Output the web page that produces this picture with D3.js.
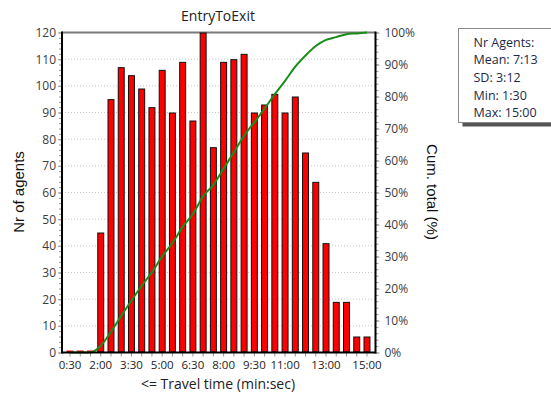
<!DOCTYPE html>
<html>
<head>
<meta charset="utf-8">
<script src="https://cdn.jsdelivr.net/npm/d3@7"></script>
<style>
  body { margin: 0; background: #fff; }
  text { font-family: "Open Sans", "Noto Sans", sans-serif; }
</style>
</head>
<body>
<div id="viz"></div>
<script>
// bins, upper bound of travel time (min:sec)
const bins = ["0:30", "1:00", "1:30", "2:00", "2:30", "3:00", "3:30", "4:00", "4:30", "5:00",
  "5:30", "6:00", "6:30", "7:00", "7:30", "8:00", "8:30", "9:00", "9:30", "10:00",
  "10:30", "11:00", "11:30", "12:00", "12:30", "13:00", "13:30", "14:00", "14:30", "15:00"];
const counts = [0, 0, 0, 45, 95, 107, 104, 99, 92, 106,
  90, 109, 87, 120, 77, 109, 110, 112, 90, 93,
  97, 90, 96, 75, 64, 41, 19, 19, 6, 6];
const xTickLabels = ["0:30", "2:00", "3:30", "5:00", "6:30", "8:00", "9:30", "11:00", "13:00", "15:00"];
const yTicks = [0, 10, 20, 30, 40, 50, 60, 70, 80, 90, 100, 110, 120];
const pctTicks = [0, 0.1, 0.2, 0.3, 0.4, 0.5, 0.6, 0.7, 0.8, 0.9, 1];
const statLines = ["Nr Agents:", "Mean: 7:13", "SD: 3:12", "Min: 1:30", "Max: 15:00"];

const width = 551, height = 394;
const plot = { left: 62, right: 375.5, top: 32.5, bottom: 352.5 };

const svg = d3.select("#viz").append("svg")
  .attr("width", width)
  .attr("height", height);

const x = d3.scaleBand()
  .domain(bins)
  .range([64.9, 372.1])
  .paddingInner(0.32)
  .paddingOuter(0.16);

const y = d3.scaleLinear().domain([0, 120]).range([plot.bottom, plot.top]);
const yPct = d3.scaleLinear().domain([0, 1]).range([plot.bottom, plot.top]);

// cumulative share
const total = d3.sum(counts);
const cum = d3.cumsum(counts).map(v => v / total);

// grid
svg.append("g")
  .selectAll("line")
  .data(yTicks.slice(1))
  .enter().append("line")
  .attr("x1", plot.left).attr("x2", plot.right)
  .attr("y1", d => y(d)).attr("y2", d => y(d))
  .style("stroke", "#c8c8c8")
  .style("stroke-dasharray", "1,2");

// top border
svg.append("line")
  .attr("x1", plot.left).attr("x2", plot.right)
  .attr("y1", plot.top).attr("y2", plot.top)
  .style("stroke", "#7a7a7a").style("stroke-width", 2);

// bars
svg.append("g")
  .selectAll("rect")
  .data(counts.map((c, i) => ({ bin: bins[i], c: c })).filter(d => d.c > 0))
  .enter().append("rect")
  .attr("x", d => x(d.bin) + 0.5)
  .attr("y", d => y(d.c) + 0.5)
  .attr("width", x.bandwidth() - 1)
  .attr("height", d => y(0) - y(d.c) - 1)
  .style("fill", "#ff0000")
  .style("stroke", "#111")
  .style("stroke-width", 1);

// zero bins drawn as a red dash on the baseline
svg.append("g")
  .selectAll("line")
  .data(bins.filter((b, i) => counts[i] === 0))
  .enter().append("line")
  .attr("x1", d => x(d)).attr("x2", d => x(d) + x.bandwidth())
  .attr("y1", plot.bottom - 1).attr("y2", plot.bottom - 1)
  .style("stroke", "#ff0000").style("stroke-width", 2);

// cumulative line
const line = d3.line()
  .x((d, i) => x(bins[i]) + x.bandwidth() / 2)
  .y(d => yPct(d))
  .curve(d3.curveMonotoneX);

svg.append("path")
  .datum(cum)
  .attr("d", line)
  .style("fill", "none")
  .style("stroke", "#1a8c1a")
  .style("stroke-width", 2);

// minor ticks
const minorY = d3.range(0, 121, 2);
svg.append("g")
  .attr("transform", `translate(${plot.left},0)`)
  .call(d3.axisLeft(y).tickValues(minorY).tickSize(3).tickFormat(""))
  .call(g => g.select(".domain").remove())
  .call(g => g.selectAll("line").style("stroke", "#999"));

svg.append("g")
  .attr("transform", `translate(${plot.right},0)`)
  .call(d3.axisRight(yPct).tickValues(d3.range(0, 51).map(i => i / 50)).tickSize(3).tickFormat(""))
  .call(g => g.select(".domain").remove())
  .call(g => g.selectAll("line").style("stroke", "#999"));

// left axis
svg.append("g")
  .attr("transform", `translate(${plot.left},0)`)
  .call(d3.axisLeft(y).tickValues(yTicks).tickSize(4).tickPadding(2))
  .call(g => g.select(".domain").remove())
  .call(g => g.selectAll("line").style("stroke", "#999"))
  .call(g => g.selectAll("text").style("font-size", "12px").style("fill", "#3c3c3c"));

// right axis
svg.append("g")
  .attr("transform", `translate(${plot.right},0)`)
  .call(d3.axisRight(yPct).tickValues(pctTicks).tickSize(4).tickPadding(5).tickFormat(d3.format(".0%")))
  .call(g => g.select(".domain").remove())
  .call(g => g.selectAll("line").style("stroke", "#999"))
  .call(g => g.selectAll("text").style("font-size", "12px").style("fill", "#3c3c3c"));

// bottom axis
svg.append("g")
  .attr("transform", `translate(0,${plot.bottom})`)
  .call(d3.axisBottom(x).tickSize(4).tickPadding(4)
    .tickFormat(d => xTickLabels.includes(d) ? d : ""))
  .call(g => g.select(".domain").remove())
  .call(g => g.selectAll("line").style("stroke", "#999"))
  .call(g => g.selectAll("text").style("font-size", "11.5px").style("fill", "#222"));

// axis lines
svg.append("line")
  .attr("x1", plot.left).attr("x2", plot.left)
  .attr("y1", plot.top - 1).attr("y2", plot.bottom + 1)
  .style("stroke", "#000").style("stroke-width", 2);
svg.append("line")
  .attr("x1", plot.right).attr("x2", plot.right)
  .attr("y1", plot.top - 1).attr("y2", plot.bottom + 1)
  .style("stroke", "#000").style("stroke-width", 2);
svg.append("line")
  .attr("x1", plot.left).attr("x2", plot.right)
  .attr("y1", plot.bottom).attr("y2", plot.bottom)
  .style("stroke", "#000").style("stroke-width", 2);

// titles
svg.append("text")
  .attr("x", 218).attr("y", 21)
  .attr("text-anchor", "middle")
  .style("font-size", "14px").style("fill", "#222")
  .text("EntryToExit");

svg.append("text")
  .attr("x", 218).attr("y", 389)
  .attr("text-anchor", "middle")
  .style("font-size", "14px").style("fill", "#222")
  .text("<= Travel time (min:sec)");

svg.append("text")
  .attr("transform", "translate(24,192) rotate(-90)")
  .attr("text-anchor", "middle")
  .style("font-family", "'Liberation Sans', Arial, sans-serif")
  .style("font-size", "15px").style("fill", "#111")
  .text("Nr of agents");

svg.append("text")
  .attr("transform", "translate(427,192) rotate(90)")
  .attr("text-anchor", "middle")
  .style("font-family", "'Liberation Sans', Arial, sans-serif")
  .style("font-size", "15px").style("fill", "#111")
  .text("Cum. total (%)");

// stats box
const box = svg.append("g").attr("transform", "translate(458.5,28.5)");
box.append("rect")
  .attr("x", 4).attr("y", 4).attr("width", 110).attr("height", 94)
  .style("fill", "#555");
box.append("rect")
  .attr("width", 110).attr("height", 94)
  .style("fill", "#fff").style("stroke", "#8a8a8a");
box.selectAll("text")
  .data(statLines)
  .enter().append("text")
  .attr("x", 15)
  .attr("y", (d, i) => 18 + i * 17.7)
  .style("font-size", "12.5px").style("fill", "#1c2a48")
  .text(d => d);
</script>
</body>
</html>
